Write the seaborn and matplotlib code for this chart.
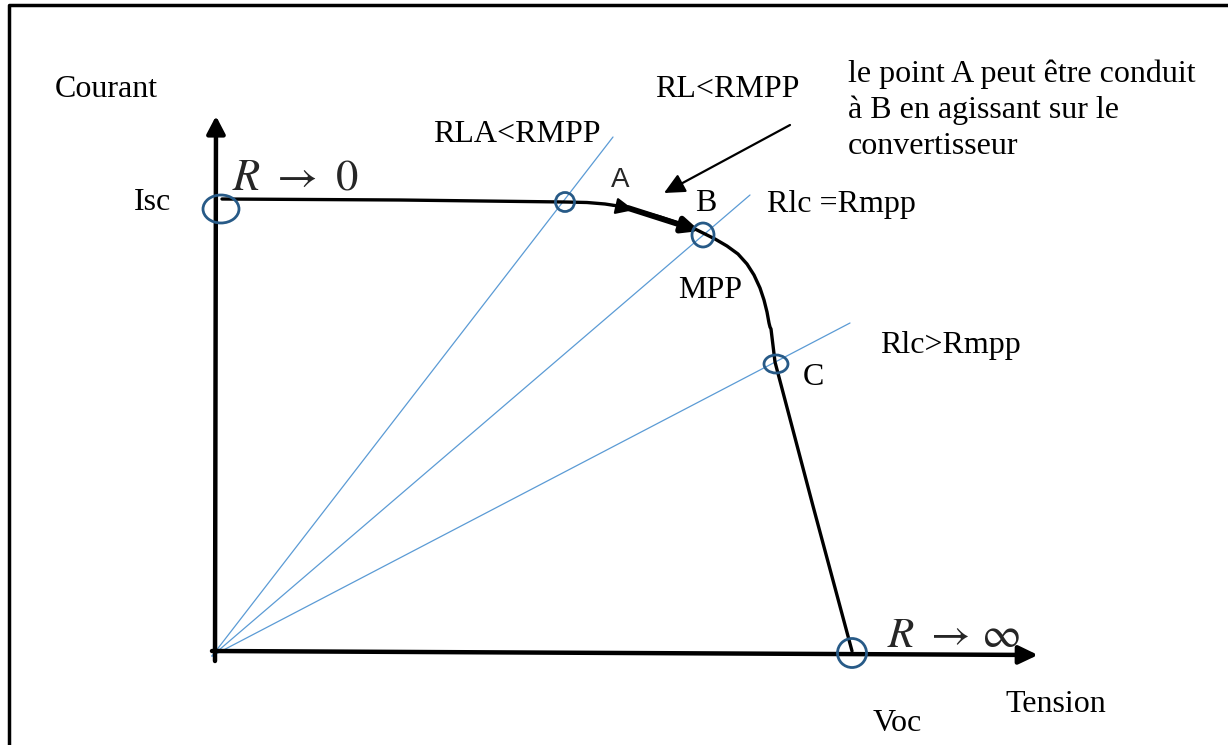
import numpy as np
import pandas as pd
import matplotlib
matplotlib.use("Agg")
import matplotlib.pyplot as plt
import seaborn as sns
from matplotlib.patches import Ellipse

# ---------------- data (diagram units, origin at axes crossing) ----------------
voltage = [7, 185, 350, 372, 390, 403, 413, 445, 478, 488, 500, 512, 523, 532,
           539, 545, 549, 552, 554, 555, 556, 560, 598, 637]
current = [452, 451, 449, 448.5, 447, 445, 443, 434, 423, 418, 412, 405, 397, 387,
           376, 363, 351, 339, 328, 324, 322, 289, 145, 0]

load_names = ["RLA<RMPP", "Rlc =Rmpp", "Rlc>Rmpp"]
load_end_v = [398, 535, 635]
load_end_i = [514, 456, 328]

point_names = ["Isc", "A", "B", "C", "Voc"]
point_v = [6, 350, 488, 561, 637]
point_i = [442, 449, 416, 287, -2]
point_w = [36, 19, 22, 24, 29]
point_h = [28, 19, 24, 18, 29]

# ---------------- figure ----------------
sns.set_theme(style="white")
plt.rcParams["font.family"] = ["Liberation Serif", "DejaVu Serif"]
plt.rcParams["mathtext.fontset"] = "stix"

W, H = 1228, 745
OX, OY = 215, 651  # pixel position of origin

fig = plt.figure(figsize=(W / 100, H / 100), dpi=100)
ax = fig.add_axes([0, 0, 1, 1])
ax.set_xlim(-OX, W - OX)
ax.set_ylim(OY - H, OY)
ax.axis("off")


def P(x, y):
    """pixel (top-left origin) -> diagram coordinates"""
    return (x - OX, OY - y)


# frame
fx, fy = zip(P(9, 760), P(9, 5), P(1240, 5))
ax.plot(fx, fy, color="black", lw=2.5, solid_capstyle="butt", zorder=1)

# load lines
df_load = pd.DataFrame({
    "name": np.repeat(load_names, 2),
    "V": np.ravel([[-3, v] for v in load_end_v]),
    "I": np.ravel([[-5, i] for i in load_end_i]),
})
sns.lineplot(data=df_load, x="V", y="I", units="name", estimator=None, sort=False,
             color="#5b9bd5", lw=0.9, ax=ax, legend=False, zorder=2)

# I-V curve
df_iv = pd.DataFrame({"V": voltage, "I": current})
sns.lineplot(data=df_iv, x="V", y="I", sort=False, estimator=None,
             color="black", lw=2.4, ax=ax, legend=False, zorder=3)

# axes arrows
ax.annotate("", xy=P(216, 116), xytext=P(215, 661),
            arrowprops=dict(arrowstyle="-|>,head_length=1.05,head_width=0.55", lw=3.2,
                            color="black", shrinkA=0, shrinkB=0, mutation_scale=10), zorder=4)
ax.annotate("", xy=P(1038, 655), xytext=P(212, 651),
            arrowprops=dict(arrowstyle="-|>,head_length=1.15,head_width=0.55", lw=3.2,
                            color="black", shrinkA=0, shrinkB=0, mutation_scale=10), zorder=4)

# arrow A -> B (thick)
ax.annotate("", xy=P(700, 231), xytext=P(628, 208),
            arrowprops=dict(arrowstyle="-|>,head_length=1.0,head_width=0.45", lw=4.2,
                            color="black", shrinkA=0, shrinkB=0, mutation_scale=10), zorder=4)
# small arrowhead at A
ax.annotate("", xy=P(634, 210), xytext=P(612, 205),
            arrowprops=dict(arrowstyle="-|>,head_length=1.1,head_width=0.5", lw=1.6,
                            color="black", shrinkA=0, shrinkB=0, mutation_scale=10), zorder=4)
# pointer arrow
ax.annotate("", xy=P(664, 193), xytext=P(790, 125),
            arrowprops=dict(arrowstyle="-|>,head_length=1.25,head_width=0.6", lw=1.6,
                            color="black", shrinkA=0, shrinkB=0, mutation_scale=10), zorder=4)

# circles at operating points
for v, i, w, h in zip(point_v, point_i, point_w, point_h):
    ax.add_patch(Ellipse((v, i), w, h, fill=False, edgecolor="#275a87", lw=2.0, zorder=5))

# texts
FS = 23
texts = [
    ("Courant", 55, 97),
    ("Isc", 134, 210),
    ("RLA<RMPP", 433, 142),
    ("RL<RMPP", 655, 97),
    ("le point A peut être conduit", 848, 82),
    ("à B en agissant sur le", 848, 118),
    ("convertisseur", 848, 154),
    ("B", 695, 211),
    ("Rlc =Rmpp", 767, 212),
    ("MPP", 678, 298),
    ("Rlc>Rmpp", 880, 353),
    ("C", 803, 385),
    ("Tension", 1005, 712),
    ("Voc", 873, 731),
]
for s, x, y in texts:
    ax.text(*P(x, y), s, fontsize=FS, ha="left", va="baseline", color="black", zorder=6)

ax.text(*P(611, 187), "A", fontsize=20, family=["Liberation Sans", "DejaVu Sans"],
        ha="left", va="baseline", zorder=6)
ax.text(*P(232, 189), r"$R\ \rightarrow\ 0$", fontsize=32, ha="left", va="baseline", zorder=6)
ax.text(*P(887, 647), r"$R\ \rightarrow\,\infty$", fontsize=31, ha="left", va="baseline", zorder=6)

fig.savefig("out.png", dpi=100)
